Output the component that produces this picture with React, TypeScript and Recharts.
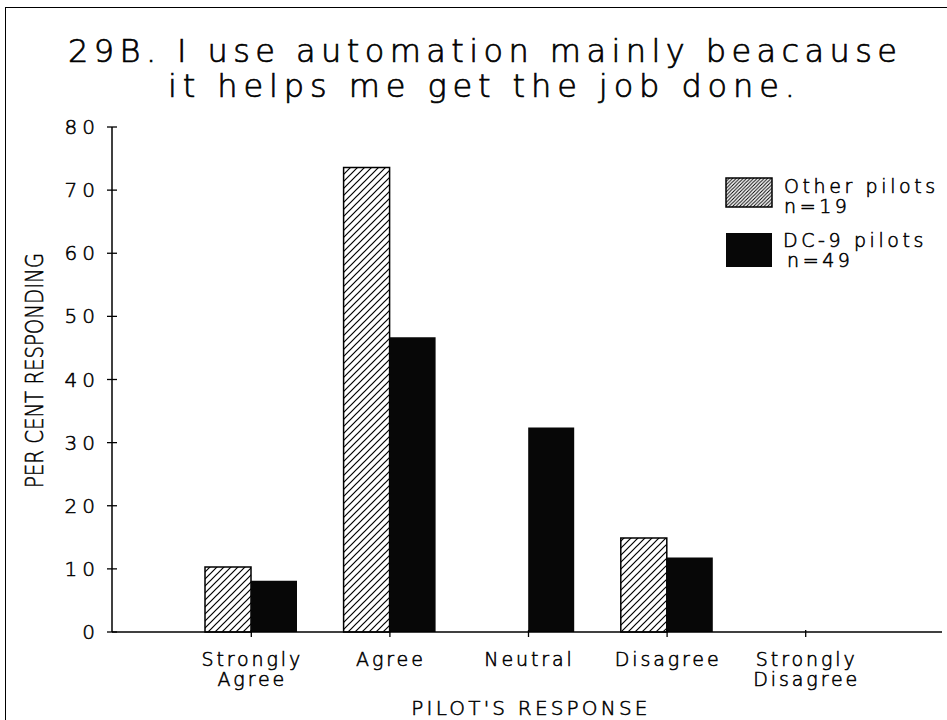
import React from 'react';
import { BarChart, Bar, XAxis, YAxis, Legend } from 'recharts';

const categories = ['Strongly Agree', 'Agree', 'Neutral', 'Disagree', 'Strongly Disagree'];
const tickLines: string[][] = [['Strongly', 'Agree'], ['Agree'], ['Neutral'], ['Disagree'], ['Strongly', 'Disagree']];
const otherPilots = [10.3, 73.6, 0, 14.9, 0];
const dc9Pilots = [8.1, 46.7, 32.4, 11.8, 0];
const yTicks = [0, 10, 20, 30, 40, 50, 60, 70, 80];
const titleLines = ['29B. I use automation mainly beacause', 'it helps me get the job done.'];
const seriesNames = ['Other pilots', 'DC-9 pilots'];
const seriesN = ['n=19', 'n=49'];

const data = categories.map((name, i) => ({ name, other: otherPilots[i], dc9: dc9Pilots[i] }));

const FONT = "'DejaVu Sans', 'Liberation Sans', sans-serif";
const FW = 200;
const TS = { fontFamily: FONT, fontWeight: FW, fill: '#000', stroke: '#000', strokeWidth: 0.55 } as const;

const YTick = (props: any) => {
  const { x, y, payload } = props;
  return (
    <g>
      <line x1={x - 5} x2={x + 5} y1={y} y2={y} stroke="#000" strokeWidth={1.3} />
      <text x={x - 12} y={y + 7} textAnchor="end" fontSize={20} letterSpacing={5} {...TS}>
        {payload.value}
      </text>
    </g>
  );
};

const XTick = (props: any) => {
  const { x, y, index } = props;
  const lines = tickLines[index] || [];
  return (
    <g>
      <line x1={x} x2={x} y1={y - 2} y2={y + 5} stroke="#000" strokeWidth={1.3} />
      <text x={x + 1} y={y + 34} textAnchor="middle" fontSize={19} letterSpacing={2.9} {...TS}>
        {lines.map((l, k) => (
          <tspan key={k} x={x + 1} dy={k === 0 ? 0 : 20}>
            {l}
          </tspan>
        ))}
      </text>
    </g>
  );
};

const YLabel = (props: any) => {
  const { viewBox } = props;
  const cx = viewBox.x + 43;
  const cy = viewBox.y + viewBox.height / 2 - 9;
  return (
    <text x={cx} y={cy} transform={`rotate(-90 ${cx} ${cy})`} textAnchor="middle" fontSize={24} textLength={235} lengthAdjust="spacingAndGlyphs" {...TS}>
      PER CENT RESPONDING
    </text>
  );
};

const XLabel = (props: any) => {
  const { viewBox } = props;
  const cx = viewBox.x + viewBox.width / 2 + 4;
  return (
    <text x={cx} y={viewBox.y + 83} textAnchor="middle" fontSize={20} letterSpacing={3.2} {...TS}>
      PILOT'S RESPONSE
    </text>
  );
};

const LegendContent = () => (
  <svg width={221} height={100} style={{ overflow: 'visible' }}>
    <rect x={0} y={0} width={46} height={29} fill="url(#hatchDense)" stroke="#000" strokeWidth={1.5} />
    <text x={58} y={15} fontSize={19} letterSpacing={3.6} {...TS}>{seriesNames[0]}</text>
    <text x={58} y={35} fontSize={19} letterSpacing={3.6} {...TS}>{seriesN[0]}</text>
    <rect x={0} y={55} width={46} height={34} fill="#070707" />
    <text x={57} y={69} fontSize={19} letterSpacing={3.6} {...TS}>{seriesNames[1]}</text>
    <text x={61} y={89} fontSize={19} letterSpacing={3.6} {...TS}>{seriesN[1]}</text>
  </svg>
);

export default function App() {
  return (
    <div style={{ position: 'absolute', left: 0, top: 0, width: 947, height: 720, background: '#fff', overflow: 'hidden' }}>
      <svg width={0} height={0} style={{ position: 'absolute' }}>
        <defs>
          <pattern id="hatch" patternUnits="userSpaceOnUse" width={7} height={7}>
            <path d="M-1,8 L8,-1 M-2,2 L2,-2 M5,9 L9,5" stroke="#000" strokeWidth={1.2} />
          </pattern>
          <pattern id="hatchDense" patternUnits="userSpaceOnUse" width={3.5} height={3.5}>
            <path d="M-1,4.5 L4.5,-1 M-1,1 L1,-1 M2.5,4.5 L4.5,2.5" stroke="#000" strokeWidth={1} />
          </pattern>
        </defs>
      </svg>
      <div style={{ position: 'absolute', left: 5, top: 7, width: 960, height: 730, borderLeft: '1.5px solid #000', borderTop: '1.5px solid #000' }} />
      <svg width={947} height={110} style={{ position: 'absolute', left: 0, top: 0 }}>
        <text x={68} y={62} fontSize={32} textLength={829} lengthAdjust="spacing" {...TS} strokeWidth={0.7}>
          {titleLines[0]}
        </text>
        <text x={168} y={97} fontSize={32} textLength={627} lengthAdjust="spacing" {...TS} strokeWidth={0.7}>
          {titleLines[1]}
        </text>
      </svg>
      <div style={{ position: 'absolute', left: 0, top: 0 }}>
        <BarChart width={947} height={720} data={data} margin={{ top: 127, right: 5, bottom: 0, left: 0 }} barGap={0}>
          <XAxis
            dataKey="name"
            height={88}
            padding={{ left: 70, right: 67 }}
            tickSize={0}
            tickMargin={0}
            tickLine={false}
            axisLine={{ stroke: '#000', strokeWidth: 1.5 }}
            tick={<XTick />}
            interval={0}
            label={<XLabel />}
          />
          <XAxis xAxisId="top" dataKey="name" orientation="top" height={0} tick={false} tickLine={false} axisLine={{ stroke: '#000', strokeWidth: 1.5 }} />
          <YAxis
            domain={[0, 80]}
            ticks={yTicks}
            width={112}
            tickSize={0}
            tickMargin={0}
            tickLine={false}
            interval={0}
            axisLine={{ stroke: '#000', strokeWidth: 1.5 }}
            tick={<YTick />}
            label={<YLabel />}
          />
          <YAxis yAxisId="right" orientation="right" domain={[0, 80]} width={0} tick={false} tickLine={false} axisLine={{ stroke: '#000', strokeWidth: 1.5 }} />
          <Legend
            layout="vertical"
            align="center"
            verticalAlign="middle"
            wrapperStyle={{ position: 'absolute', left: 726, top: 178, width: 221, height: 100 }}
            content={<LegendContent />}
          />
          <Bar dataKey="other" name={seriesNames[0]} barSize={46} fill="url(#hatch)" stroke="#000" strokeWidth={1.5} isAnimationActive={false} />
          <Bar dataKey="dc9" name={seriesNames[1]} barSize={46} fill="#070707" isAnimationActive={false} />
        </BarChart>
      </div>
    </div>
  );
}
